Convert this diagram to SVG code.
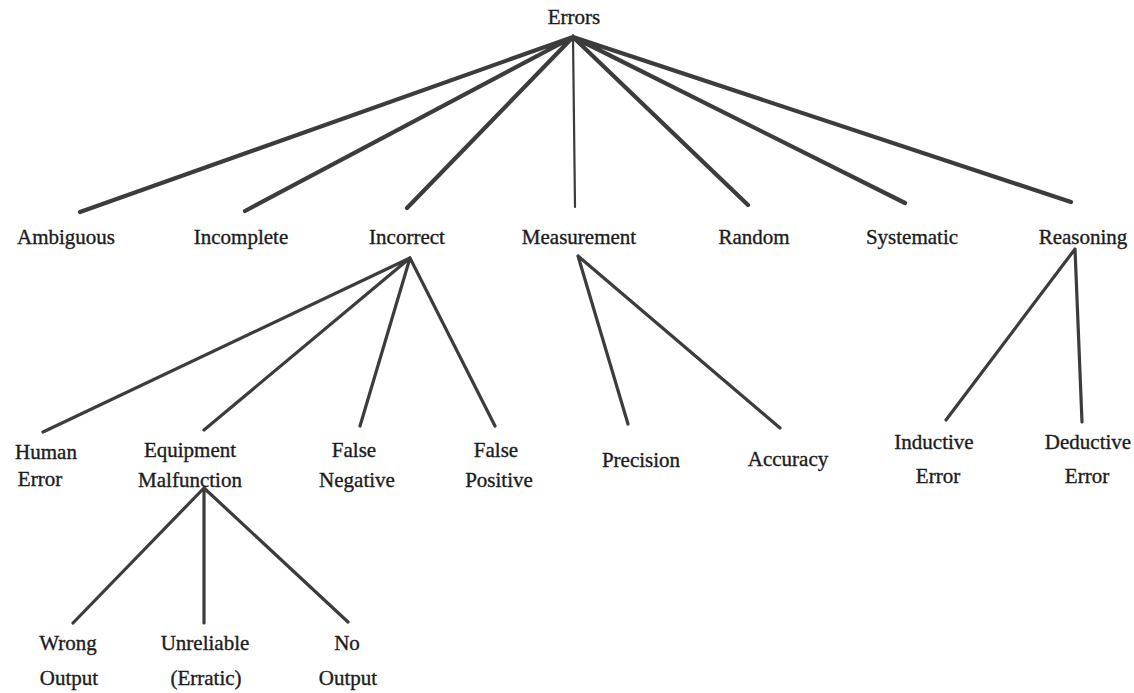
<svg xmlns="http://www.w3.org/2000/svg" width="1134" height="693" viewBox="0 0 1134 693">
<style>
text{font-family:"Liberation Serif","Times New Roman",serif;font-size:21px;fill:#1c1c1c;stroke:#1c1c1c;stroke-width:0.35;text-anchor:middle}
.e{stroke:#3c3c3c;stroke-width:4.2;stroke-linecap:round;fill:none}
.t{stroke:#3c3c3c;stroke-width:3.2;stroke-linecap:round;fill:none}
</style>
<rect width="1134" height="693" fill="#fff"/>
<g id="connectors">
<path class="e" d="M573,37L80,212M573,37L245,211M573,37L407,208M573,37L748,205M573,37L905,203M573,37L1071,202"/>
<path class="t" style="stroke-width:2.2" d="M573,37L575,207"/>
<path class="t" d="M410,258L43,432M410,258L204,430M410,258L360,426M410,258L495,426"/>
<path class="t" d="M578,256L628,424M578,256L780,428"/>
<path class="t" d="M1075,249L946,420M1075,249L1082,422"/>
<path class="t" d="M204,488L73,623M204,488L204,623M204,488L348,622"/>
</g>
<g id="errors"><text x="574" y="24">Errors</text></g>
<g id="ambiguous"><text x="66" y="244">Ambiguous</text></g>
<g id="incomplete"><text x="241" y="244">Incomplete</text></g>
<g id="incorrect"><text x="407" y="244">Incorrect</text></g>
<g id="measurement"><text x="579" y="244">Measurement</text></g>
<g id="random"><text x="754" y="244">Random</text></g>
<g id="systematic"><text x="912" y="244">Systematic</text></g>
<g id="reasoning"><text x="1083" y="244">Reasoning</text></g>
<g id="human"><text x="46" y="459">Human</text><text x="40" y="486">Error</text></g>
<g id="equipment"><text x="190" y="457">Equipment</text><text x="190" y="487">Malfunction</text></g>
<g id="falseneg"><text x="354" y="457">False</text><text x="357" y="487">Negative</text></g>
<g id="falsepos"><text x="496" y="457">False</text><text x="499" y="487">Positive</text></g>
<g id="precision"><text x="641" y="467">Precision</text></g>
<g id="accuracy"><text x="788" y="466">Accuracy</text></g>
<g id="inductive"><text x="934" y="449">Inductive</text><text x="938" y="483">Error</text></g>
<g id="deductive"><text x="1088" y="449">Deductive</text><text x="1087" y="483">Error</text></g>
<g id="wrong"><text x="68" y="650">Wrong</text><text x="69" y="685">Output</text></g>
<g id="unreliable"><text x="205" y="650">Unreliable</text><text x="206" y="685">(Erratic)</text></g>
<g id="nooutput"><text x="347" y="650">No</text><text x="348" y="685">Output</text></g>
</svg>
